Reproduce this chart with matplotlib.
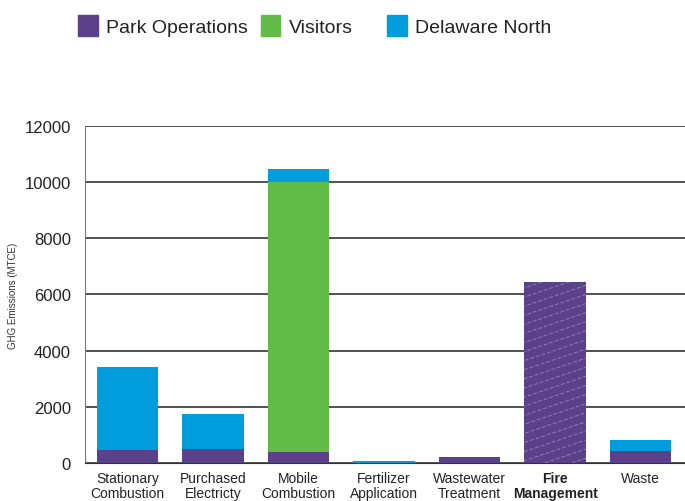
import matplotlib.pyplot as plt
import matplotlib.patches as mpatches
import numpy as np

font = ['Liberation Sans', 'DejaVu Sans']
purple = '#5a4189'
green = '#62bb46'
blue = '#009ddc'

categories = [
        'Stationary\nCombustion',
        'Purchased\nElectricty',
        'Mobile\nCombustion',
        'Fertilizer\nApplication',
        'Wastewater\nTreatment',
        'Fire\nManagement',
        'Waste'
        ]
park_ops = [450, 500, 380, 0, 220, 6430, 420]
visitors = [0, 0, 9620, 0, 0, 0, 0]
delaware = [2970, 1250, 470, 50, 0, 0, 400]
legend_labels = ['Park Operations', 'Visitors', 'Delaware North']
positions = np.arange(len(categories))

fig = plt.figure(figsize=(6.85, 5.02), dpi=100)
ax = fig.add_axes([0.124, 0.076, 0.876, 0.671])
ax.set_axisbelow(True)

width = 0.72
bars_po = ax.bar(positions, park_ops, width, color=purple, linewidth=0)
ax.bar(positions, visitors, width, bottom=park_ops, color=green, linewidth=0)
bottom2 = np.array(park_ops) + np.array(visitors)
ax.bar(positions, delaware, width, bottom=bottom2, color=blue, linewidth=0)

# light dashed diagonal lines on the fire management bar
fire = bars_po[5]
for c in np.arange(-1.0, 1.0, 0.027):
    line, = ax.plot([0, 1], [c, c + 0.6], transform=ax.transAxes,
                    color='#8d7fb8', linewidth=0.7, linestyle=(0, (4, 2)))
    line.set_clip_path(fire)

ax.set_ylim(0, 12000)
ax.set_xlim(-0.5, len(categories) - 0.48)
ax.set_yticks(np.arange(0, 12001, 2000))
ax.yaxis.grid(True, color='#333333', linewidth=1.2)
for s in ['top', 'right']:
    ax.spines[s].set_visible(False)
ax.spines['left'].set_color('#777777')
ax.spines['bottom'].set_color('#333333')
ax.tick_params(axis='both', length=0, pad=6)
ax.tick_params(axis='y', pad=10)
for lbl in ax.get_yticklabels():
    lbl.set_family(font)
    lbl.set_fontsize(12)
    lbl.set_color('#222222')
ax.set_xticks(positions)
ax.set_xticklabels(categories, family=font, fontsize=10, color='#222222',
                   linespacing=1.1)
ax.get_xticklabels()[5].set_fontweight('bold')
ax.set_ylabel('GHG Emissions (MTCE)', family=font, fontsize=7, color='#333333')
ax.yaxis.set_label_coords(-0.112, 0.5)

# legend, one entry at a time to match spacing
colors = [purple, green, blue]
xs = [0.1005, 0.3675, 0.5515]
for lab, col, x in zip(legend_labels, colors, xs):
    fig.legend(handles=[mpatches.Patch(color=col, label=lab)],
               loc='center left', bbox_to_anchor=(x - 0.012, 0.947),
               frameon=False, prop={'family': font, 'size': 14},
               handlelength=1.0, handleheight=1.3, handletextpad=0.45,
               labelcolor='#222222')

plt.savefig('out.png', dpi=100)
